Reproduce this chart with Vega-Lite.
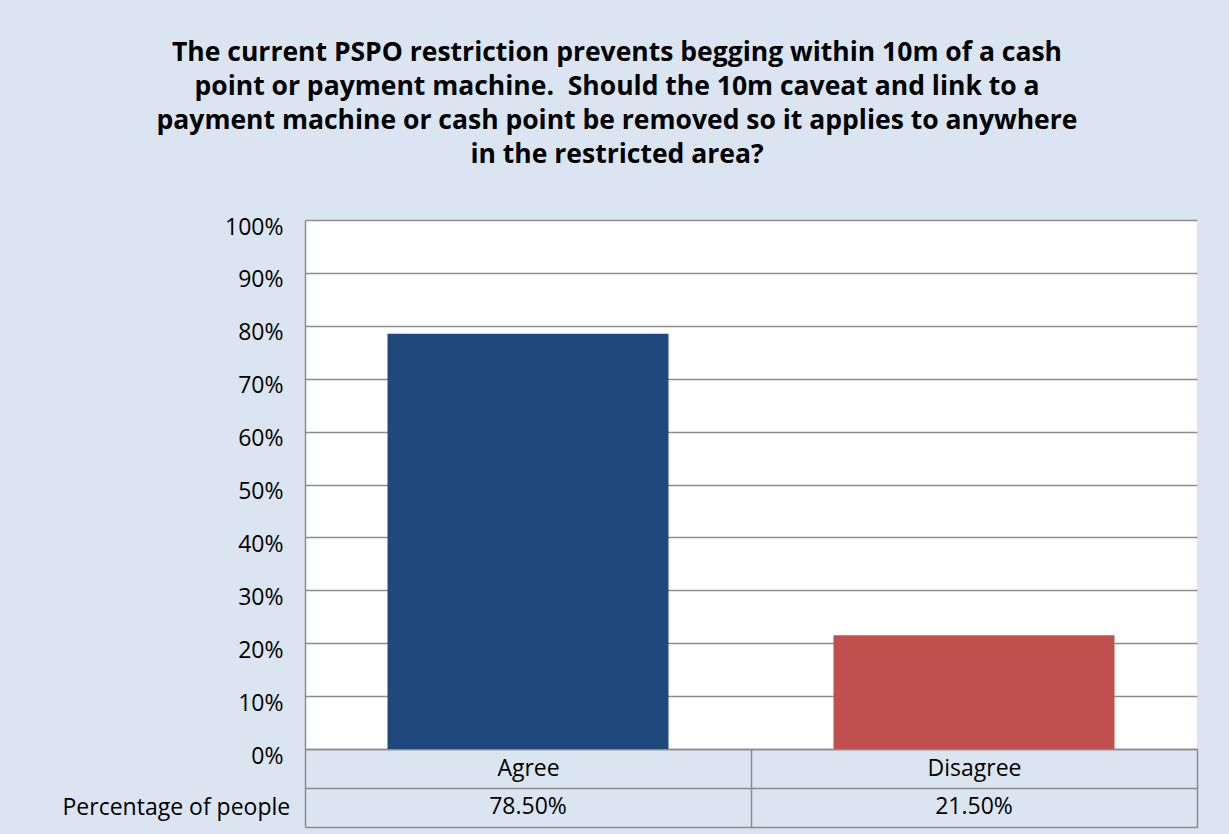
{
  "$schema": "https://vega.github.io/schema/vega-lite/v6.json",
  "autosize": "none",
  "width": 892,
  "height": 529,
  "padding": {"left": 305, "top": 220, "right": 32, "bottom": 85},
  "background": "#DBE5F1",
  "config": {
    "font": "Open Sans",
    "view": {"stroke": null, "fill": "white"},
    "axis": {"labelFont": "Open Sans", "titleFont": "Open Sans", "labelColor": "black", "titleColor": "black"}
  },
  "title": {
    "text": [
      "The current PSPO restriction prevents begging within 10m of a cash",
      "point or payment machine.\u00a0 Should the 10m caveat and link to a",
      "payment machine or cash point be removed so it applies to anywhere",
      "in the restricted area?"
    ],
    "font": "Open Sans",
    "fontSize": 26.5,
    "fontWeight": "bold",
    "color": "black",
    "lineHeight": 34,
    "anchor": "middle",
    "dx": -134,
    "offset": 48
  },
  "data": {
    "values": [
      {"response": "Agree", "pct": 0.785},
      {"response": "Disagree", "pct": 0.215}
    ]
  },
  "encoding": {
    "x": {
      "field": "response",
      "type": "nominal",
      "sort": null,
      "scale": {"paddingInner": 0, "paddingOuter": 0}
    }
  },
  "layer": [
    {
      "mark": {"type": "bar", "clip": false, "width": {"band": 0.63}},
      "encoding": {
        "x": {
          "field": "response",
          "type": "nominal",
          "sort": null,
          "axis": {
            "orient": "bottom",
            "title": null,
            "labelAngle": 0,
            "labelFontSize": 23,
            "labelBaseline": "middle",
            "labelPadding": -59,
            "ticks": true,
            "tickBand": "extent",
            "tickSize": 78,
            "tickColor": "#8C8C8C",
            "tickWidth": 1.5,
            "domain": true,
            "domainColor": "#8C8C8C",
            "domainWidth": 1.5
          }
        },
        "y": {
          "field": "pct",
          "type": "quantitative",
          "scale": {"domain": [0, 1], "nice": false},
          "axis": {
            "title": null,
            "format": ".0%",
            "values": [0, 0.1, 0.2, 0.3, 0.4, 0.5, 0.6, 0.7, 0.8, 0.9, 1],
            "labelFontSize": 23,
            "labelPadding": 22,
            "labelOffset": 7,
            "labelOverlap": false,
            "ticks": false,
            "domain": true,
            "domainColor": "#8C8C8C",
            "domainWidth": 1.5,
            "grid": true,
            "gridColor": "#8C8C8C",
            "gridWidth": 1.5
          }
        },
        "color": {
          "field": "response",
          "type": "nominal",
          "scale": {"domain": ["Agree", "Disagree"], "range": ["#1F497D", "#C0504D"]},
          "legend": null
        }
      }
    },
    {
      "mark": {"type": "text", "fontSize": 23, "font": "Open Sans", "color": "black", "baseline": "middle", "dy": 58, "clip": false},
      "encoding": {
        "x": {
          "field": "response",
          "type": "nominal",
          "sort": null,
          "axis": {
            "orient": "bottom",
            "title": "Percentage of people",
            "titleX": -243,
            "titleY": 19,
            "titleAlign": "left",
            "titleBaseline": "middle",
            "titleAngle": 0,
            "titleFontSize": 23,
            "titleFontWeight": "normal",
            "labels": false,
            "ticks": false,
            "offset": 39,
            "domain": true,
            "domainColor": "#8C8C8C",
            "domainWidth": 1.5
          }
        },
        "y": {"datum": 0, "type": "quantitative", "axis": null},
        "text": {"field": "pct", "type": "quantitative", "format": ".2%"}
      }
    },
    {
      "mark": {"type": "tick", "opacity": 0},
      "encoding": {
        "x": {
          "field": "response",
          "type": "nominal",
          "sort": null,
          "axis": {
            "orient": "bottom",
            "title": null,
            "labels": false,
            "ticks": false,
            "offset": 78,
            "domain": true,
            "domainColor": "#8C8C8C",
            "domainWidth": 1.5
          }
        },
        "y": {"datum": 0, "type": "quantitative", "axis": null}
      }
    }
  ],
  "resolve": {"axis": {"x": "independent", "y": "independent"}}
}
